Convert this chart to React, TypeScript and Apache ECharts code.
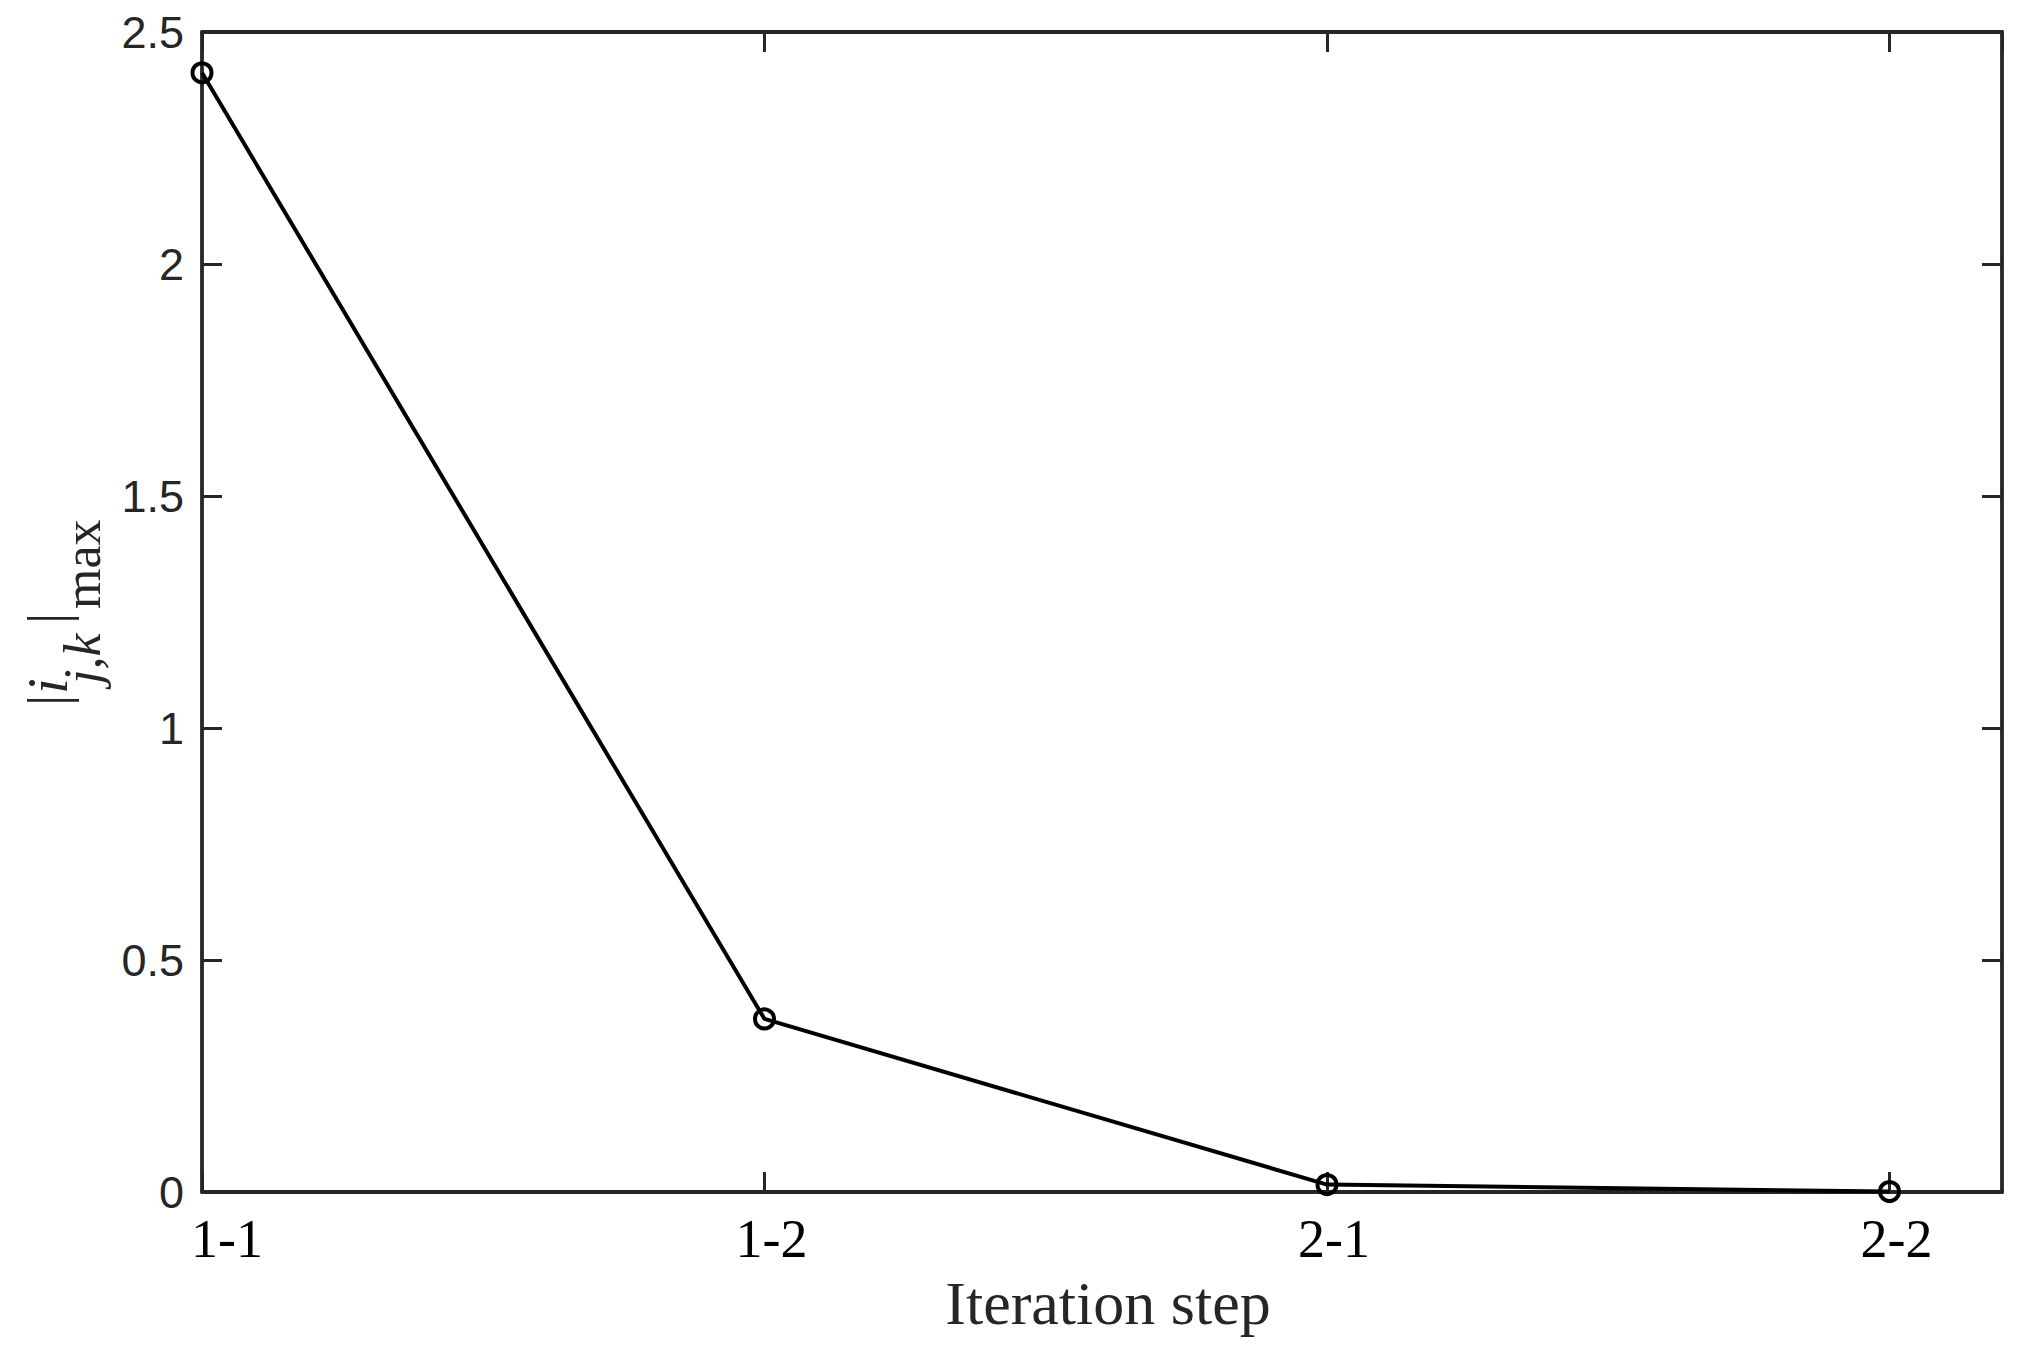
import React, { useEffect, useRef } from 'react';
import * as echarts from 'echarts';

// Data
const steps = ['1-1', '1-2', '2-1', '2-2'];
const stepPositions = [1, 2, 3, 4];
const maxCurrent = [2.412, 0.373, 0.016, 0.001];

const axisColor = '#262626';
const serif = '"Liberation Serif", "Times New Roman", serif';
const sans = '"Liberation Sans", Arial, Helvetica, sans-serif';

export default function App() {
  const ref = useRef<HTMLDivElement>(null);

  useEffect(() => {
    const chart = echarts.init(ref.current!, null, { renderer: 'svg' });

    const tick = { show: true, inside: true, length: 20, lineStyle: { color: axisColor, width: 3 } };
    const line = { show: true, onZero: false, lineStyle: { color: axisColor, width: 3.8 } };

    const xBase: any = {
      type: 'value',
      min: 1,
      max: 4.2,
      interval: 1,
      splitLine: { show: false },
      axisLine: line,
      axisTick: tick,
    };
    const yBase: any = {
      type: 'value',
      min: 0,
      max: 2.5,
      interval: 0.5,
      splitLine: { show: false },
      axisLine: line,
      axisTick: tick,
    };

    const mainSize = 57;
    const subSize = 52;
    const mainX = 47;
    const subX = 82;
    const labelPart = (text: string, x: number, y: number, size: number, italic: boolean) => ({
      type: 'text',
      x,
      y,
      rotation: Math.PI / 2,
      style: {
        text,
        fontSize: size,
        fontFamily: serif,
        fontStyle: italic ? 'italic' : 'normal',
        fill: axisColor,
        align: 'left',
        verticalAlign: 'middle',
      },
    });

    const tickFont = { fontFamily: serif, fontSize: 54, color: '#000' };

    chart.setOption({
      animation: false,
      backgroundColor: '#ffffff',
      grid: { left: 202, right: 25, top: 32, bottom: 166, containLabel: false, outerBoundsMode: 'none' },
      xAxis: [
        {
          ...xBase,
          position: 'bottom',
          axisLabel: {
            show: true,
            margin: 20,
            ...tickFont,
            showMaxLabel: false,
            formatter: (v: number) => {
              const i = stepPositions.indexOf(v);
              if (i < 0) return '';
              return i === 0 ? `{first|${steps[i]}}` : `{n|${steps[i]}}`;
            },
            rich: {
              first: { ...tickFont, padding: [0, 0, 0, 50] },
              n: { ...tickFont, padding: [0, 0, 0, 14] },
            },
          },
          name: 'Iteration step',
          nameLocation: 'middle',
          nameGap: 80,
          nameTextStyle: { fontFamily: serif, fontSize: 62, color: axisColor, padding: [0, 0, 0, 12] },
        },
        { ...xBase, position: 'top', axisLabel: { show: false } },
      ],
      yAxis: [
        {
          ...yBase,
          position: 'left',
          axisLabel: { show: true, margin: 18, fontFamily: sans, fontSize: 45, lineHeight: 40, color: axisColor },
        },
        { ...yBase, position: 'right', axisLabel: { show: false } },
      ],
      graphic: [
        labelPart('|', mainX, 706, mainSize, false),
        labelPart('i', mainX, 694, mainSize, true),
        labelPart('j,k', subX, 684, subSize, true),
        labelPart('|', mainX, 624, mainSize, false),
        labelPart('max', subX, 609, subSize, false),
      ],
      series: [
        {
          type: 'line',
          xAxisIndex: 0,
          yAxisIndex: 0,
          data: stepPositions.map((x, i) => [x, maxCurrent[i]]),
          symbol: 'circle',
          symbolSize: 19,
          clip: false,
          lineStyle: { color: '#000', width: 4 },
          itemStyle: { color: 'rgba(0,0,0,0)', borderColor: '#000', borderWidth: 4 },
          z: 5,
        },
      ],
    });

    return () => chart.dispose();
  }, []);

  return (
    <div
      ref={ref}
      style={{ position: 'fixed', left: 0, top: 0, width: 2027, height: 1358, background: '#fff' }}
    />
  );
}
